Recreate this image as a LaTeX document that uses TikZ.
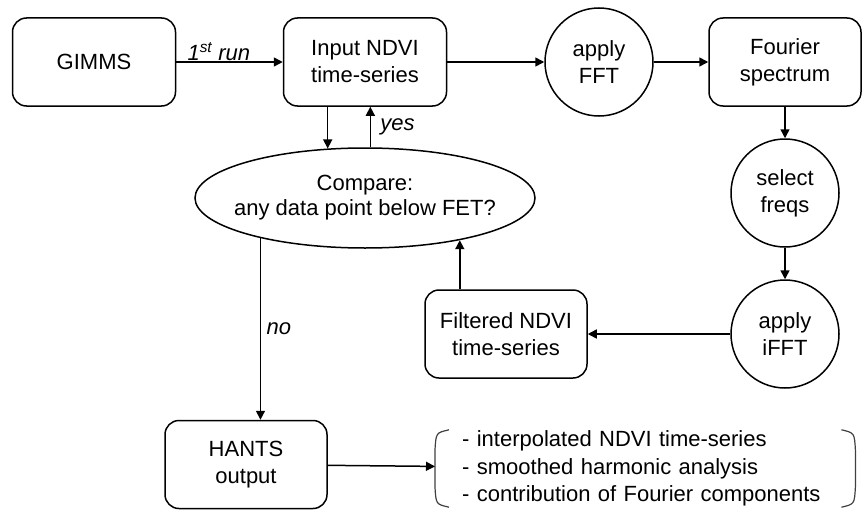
\documentclass[tikz,border=0pt]{standalone}
\usepackage{fontspec}
\setmainfont{Liberation Sans}
\usetikzlibrary{arrows.meta,shapes.geometric}

\tikzset{
  base/.style={draw=black, line width=1.5pt, align=center, inner sep=0pt,
    font=\fontsize{22}{27}\selectfont},
  procbox/.style={base, rectangle, rounded corners=14pt,
    minimum width=163pt, minimum height=88pt},
  opcircle/.style={base, circle, minimum size=108pt},
  testellipse/.style={base, ellipse, inner xsep=-11pt,
    minimum width=340pt, minimum height=100pt,
    font=\fontsize{22}{25}\selectfont},
  arr/.style={line width=1.5pt, -{Triangle[length=9pt,width=9pt]}},
  lbl/.style={font=\fontsize{22}{27}\selectfont\itshape},
  bracket/.style={line width=1.2pt, draw=black!75}
}

\begin{document}
\begin{tikzpicture}[x=1pt, y=-1pt]
  \useasboundingbox (0,0) rectangle (864,511);

  % top row
  \node[procbox] (gimms) at (94,62) {GIMMS};
  \node[procbox] (input) at (365,62) {Input NDVI\\time-series};
  \node[opcircle] (fft) at (599,62) {apply\\FFT};
  \node[procbox, minimum width=152pt] (fourier) at (785,62) {Fourier\\spectrum};

  % right column
  \node[opcircle] (select) at (785,193) {select\\freqs};
  \node[opcircle] (ifft) at (785,334) {apply\\iFFT};

  % test and feedback
  \node[testellipse] (compare) at (365,198) {Compare:\\any data point below FET?};
  \node[procbox, minimum width=162pt] (filtered) at (506,334) {Filtered NDVI\\time-series};

  % output
  \node[procbox, minimum width=162pt] (hants) at (246,464.5) {HANTS\\output};
  \node[anchor=west, inner xsep=27pt, inner ysep=0pt, text width=366pt,
        minimum height=77pt, align=left,
        font=\fontsize{22}{27.5}\selectfont] (outputs) at (435,468.5)
    {- interpolated NDVI time-series\\- smoothed harmonic analysis\\- contribution of Fourier components};

  % round brackets around the output list
  \draw[bracket] ([xshift=14pt]outputs.north west)
    .. controls ([xshift=1pt,yshift=-3pt]outputs.north west) .. ([yshift=-20pt]outputs.north west)
    -- ([yshift=20pt]outputs.south west)
    .. controls ([xshift=1pt,yshift=3pt]outputs.south west) .. ([xshift=14pt]outputs.south west);
  \draw[bracket] ([xshift=-14pt]outputs.north east)
    .. controls ([xshift=-1pt,yshift=-3pt]outputs.north east) .. ([yshift=-20pt]outputs.north east)
    -- ([yshift=20pt]outputs.south east)
    .. controls ([xshift=-1pt,yshift=3pt]outputs.south east) .. ([xshift=-14pt]outputs.south east);

  % connectors
  \draw[arr] (gimms) -- (input)
    node[lbl, pos=0.4, above, inner sep=1pt] {1\textsuperscript{st} run};
  \draw[arr] (input) -- (fft);
  \draw[arr] (fft) -- (fourier);
  \draw[arr] (fourier) -- (select);
  \draw[arr] (select) -- (ifft);
  \draw[arr] (ifft) -- (filtered);
  \draw[arr] (filtered.north -| compare.-24.2) -- (compare.-24.2);
  \draw[arr] (input.south -| compare.127) -- (compare.127);
  \draw[arr] (compare.84) -- (compare.84 |- input.south)
    node[lbl, midway, right=6pt] {yes};
  \draw[arr] (compare.201) -- (compare.201 |- hants.north)
    node[lbl, midway, right=2pt] {no};
  \draw[arr] (hants) -- (outputs);
\end{tikzpicture}
\end{document}
